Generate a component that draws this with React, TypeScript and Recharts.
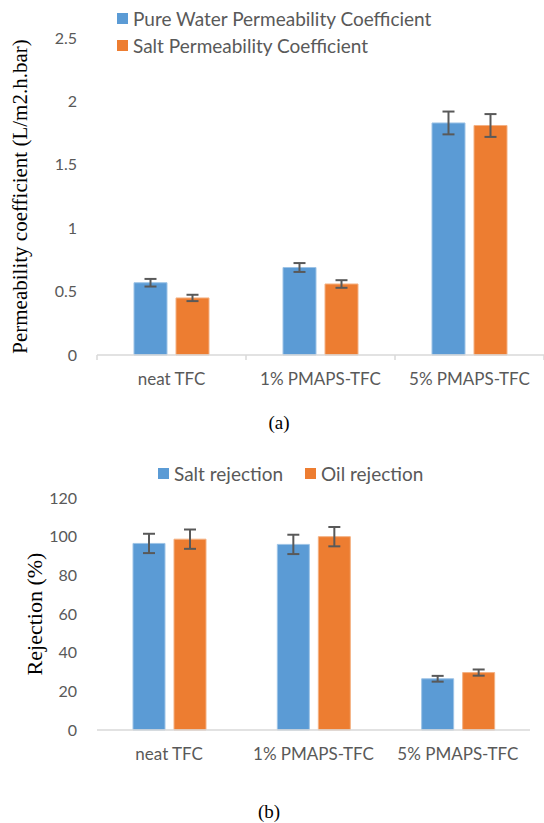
import React from "react";
import { BarChart, Bar, XAxis, YAxis, ErrorBar } from "recharts";

const CATEGORIES = ["neat TFC", "1% PMAPS-TFC", "5% PMAPS-TFC"];

const PURE_WATER = [0.57, 0.69, 1.83];
const PURE_WATER_ERR = [0.03, 0.035, 0.09];
const SALT_PERM = [0.45, 0.56, 1.81];
const SALT_PERM_ERR = [0.025, 0.03, 0.09];
const PERM_TICKS = [0, 0.5, 1, 1.5, 2, 2.5];

const SALT_REJ = [96.5, 96, 26.5];
const SALT_REJ_ERR = [5, 5, 1.5];
const OIL_REJ = [98.7, 100, 29.7];
const OIL_REJ_ERR = [5, 5, 1.6];
const REJ_TICKS = [0, 20, 40, 60, 80, 100, 120];

const BLUE = "#5B9BD5";
const ORANGE = "#ED7D31";
const GREY = "#595959";
const AXIS = "#D9D9D9";
const SANS = "Lato, 'Open Sans', sans-serif";
const SERIF = "'Liberation Serif', 'Times New Roman', serif";

const permData = CATEGORIES.map((name, i) => ({
  name,
  water: PURE_WATER[i],
  waterErr: PURE_WATER_ERR[i],
  salt: SALT_PERM[i],
  saltErr: SALT_PERM_ERR[i],
}));

const rejData = CATEGORIES.map((name, i) => ({
  name,
  salt: SALT_REJ[i],
  saltErr: SALT_REJ_ERR[i],
  oil: OIL_REJ[i],
  oilErr: OIL_REJ_ERR[i],
}));

// excel-ish category tick, optional marks on the band boundaries
function CategoryTick(props: any) {
  const { x, y, payload, index, band, marks } = props;
  const last = index === CATEGORIES.length - 1;
  return (
    <g>
      {marks && (
        <line x1={x - band / 2} x2={x - band / 2} y1={y} y2={y + 5} stroke={AXIS} strokeWidth={1.5} />
      )}
      {marks && last && (
        <line x1={x + band / 2} x2={x + band / 2} y1={y} y2={y + 5} stroke={AXIS} strokeWidth={1.5} />
      )}
      <text x={x} y={y + 30} textAnchor="middle" fill={GREY} fontSize={17} fontFamily={SANS}>
        {payload.value}
      </text>
    </g>
  );
}

function Swatch({ color, label }: { color: string; label: string }) {
  return (
    <div style={{ display: "flex", alignItems: "center", gap: 5, height: 27 }}>
      <span style={{ width: 11, height: 11, background: color, display: "inline-block" }} />
      <span style={{ color: GREY, fontSize: 19, fontFamily: SANS, whiteSpace: "nowrap" }}>{label}</span>
    </div>
  );
}

const yTick = { fill: GREY, fontSize: 16, fontFamily: SANS };

export default function App() {
  return (
    <div style={{ position: "absolute", left: 0, top: 0, width: 544, height: 823, background: "#fff" }}>
      {/* (a) permeability */}
      <div style={{ position: "absolute", left: 0, top: 0 }}>
        <BarChart
          width={544}
          height={400}
          data={permData}
          margin={{ top: 38, right: 0, bottom: 15, left: 0 }}
          barGap={9}
        >
          <XAxis
            dataKey="name"
            height={30}
            axisLine={{ stroke: AXIS, strokeWidth: 1.5 }}
            tickLine={false}
            tickSize={0}
            tickMargin={0}
            interval={0}
            tick={<CategoryTick band={(544 - 97) / 3} marks />}
          />
          <YAxis
            width={97}
            domain={[0, 2.5]}
            ticks={PERM_TICKS}
            axisLine={false}
            tickLine={false}
            tickSize={0}
            tickMargin={20}
            tick={yTick}
            label={{
              value: "Permeability coefficient (L/m2.h.bar)",
              angle: -90,
              position: "insideLeft",
              offset: 20,
              style: { textAnchor: "middle", fill: "#000", fontSize: 21, fontFamily: SERIF },
            }}
          />
          <Bar dataKey="water" fill={BLUE} stroke="#9DC3E6" strokeWidth={1} barSize={33} isAnimationActive={false}>
            <ErrorBar dataKey="waterErr" width={6} strokeWidth={2} stroke={GREY} direction="y" />
          </Bar>
          <Bar dataKey="salt" fill={ORANGE} stroke="#F4B183" strokeWidth={1} barSize={33} isAnimationActive={false}>
            <ErrorBar dataKey="saltErr" width={6} strokeWidth={2} stroke={GREY} direction="y" />
          </Bar>
        </BarChart>
        <div style={{ position: "absolute", left: 117, top: 5 }}>
          <Swatch color={BLUE} label="Pure Water Permeability Coefficient" />
          <Swatch color={ORANGE} label="Salt Permeability Coefficient" />
        </div>
      </div>
      <div
        style={{
          position: "absolute",
          left: 279,
          top: 423,
          transform: "translate(-50%, -50%)",
          fontFamily: SERIF,
          fontSize: 19,
        }}
      >
        (a)
      </div>

      {/* (b) rejection */}
      <div style={{ position: "absolute", left: 0, top: 420 }}>
        <BarChart
          width={544}
          height={360}
          data={rejData}
          margin={{ top: 78, right: 14, bottom: 20, left: 0 }}
          barGap={9}
        >
          <XAxis
            dataKey="name"
            height={30}
            axisLine={{ stroke: AXIS, strokeWidth: 1.5 }}
            tickLine={false}
            tickSize={0}
            tickMargin={0}
            interval={0}
            tick={<CategoryTick band={(530 - 97) / 3} marks={false} />}
          />
          <YAxis
            width={97}
            domain={[0, 120]}
            ticks={REJ_TICKS}
            axisLine={false}
            tickLine={false}
            tickSize={0}
            tickMargin={20}
            tick={yTick}
            label={{
              value: "Rejection (%)",
              angle: -90,
              position: "insideLeft",
              offset: 34,
              style: { textAnchor: "middle", fill: "#000", fontSize: 22, fontFamily: SERIF },
            }}
          />
          <Bar dataKey="salt" fill={BLUE} stroke="#9DC3E6" strokeWidth={1} barSize={32} isAnimationActive={false}>
            <ErrorBar dataKey="saltErr" width={6} strokeWidth={2} stroke={GREY} direction="y" />
          </Bar>
          <Bar dataKey="oil" fill={ORANGE} stroke="#F4B183" strokeWidth={1} barSize={32} isAnimationActive={false}>
            <ErrorBar dataKey="oilErr" width={6} strokeWidth={2} stroke={GREY} direction="y" />
          </Bar>
        </BarChart>
        <div style={{ position: "absolute", left: 158, top: 40, display: "flex", gap: 22 }}>
          <Swatch color={BLUE} label="Salt rejection" />
          <Swatch color={ORANGE} label="Oil rejection" />
        </div>
      </div>
      <div
        style={{
          position: "absolute",
          left: 269,
          top: 812,
          transform: "translate(-50%, -50%)",
          fontFamily: SERIF,
          fontSize: 19,
        }}
      >
        (b)
      </div>
    </div>
  );
}
